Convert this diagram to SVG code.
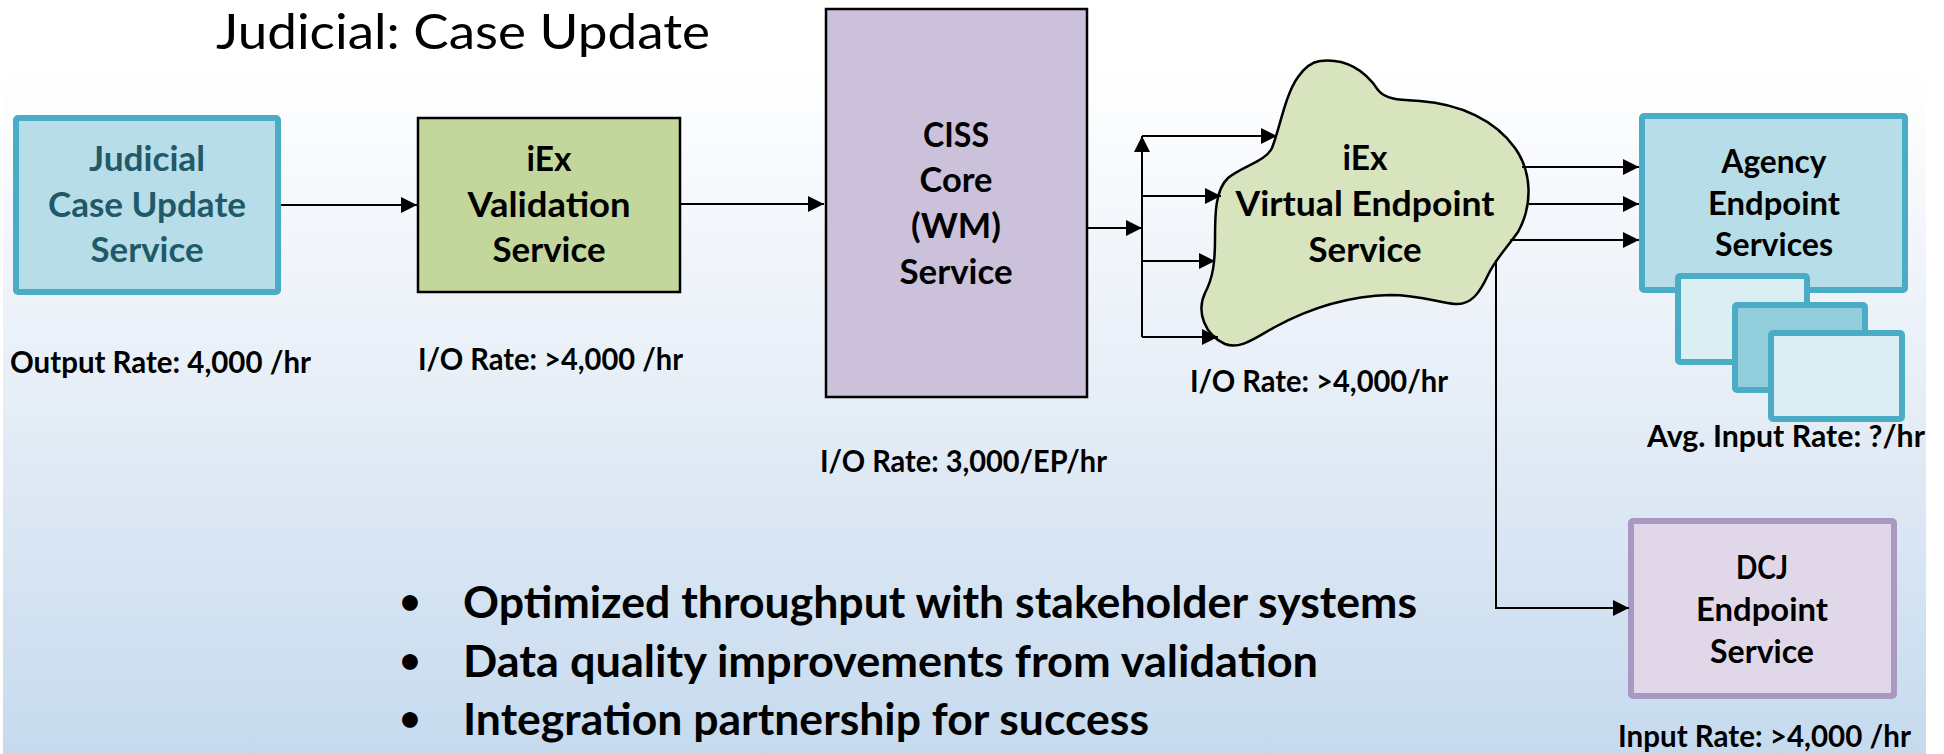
<svg xmlns="http://www.w3.org/2000/svg" width="1944" height="754" viewBox="0 0 1944 754">
<defs>
<linearGradient id="bg" x1="0" y1="0" x2="0" y2="1">
<stop offset="0" stop-color="#FFFFFF"/>
<stop offset="0.5" stop-color="#E5EDF6"/>
<stop offset="1" stop-color="#C6DAEE"/>
</linearGradient>
<marker id="ah" markerUnits="userSpaceOnUse" markerWidth="17" markerHeight="16" refX="16" refY="8" orient="auto">
<path d="M0,0 L16,8 L0,16 z" fill="#000"/>
</marker>
<style>
.t{font-family:Lato,'Liberation Sans',sans-serif;font-weight:700;fill:#000}
.c{text-anchor:middle}
.b{font-size:35px}
.s{font-size:32px}
.l{font-size:29.5px}
.u{font-size:44px}
.bt{font-size:36px}
.title{font-family:Lato,'Liberation Sans',sans-serif;font-weight:400;font-size:48px;fill:#000}
.teal{fill:#B7DEE8;stroke:#4BACC6;stroke-width:6}
.conn path{fill:none;stroke:#000;stroke-width:2}
</style>
</defs>
<rect x="0" y="0" width="1944" height="754" fill="#FFFFFF"/>
<rect x="3" y="67" width="1923" height="687" fill="url(#bg)"/>
<text class="title" x="216" y="49" textLength="494" lengthAdjust="spacingAndGlyphs">Judicial: Case Update</text>

<g id="judicial">
<rect class="teal" x="16" y="118" width="262" height="174" rx="2"/>
<text class="t c b" style="fill:#215968" x="147" y="171" textLength="116" lengthAdjust="spacingAndGlyphs">Judicial</text>
<text class="t c b" style="fill:#215968" x="147" y="217" textLength="198" lengthAdjust="spacingAndGlyphs">Case Update</text>
<text class="t c b" style="fill:#215968" x="147" y="262" textLength="113" lengthAdjust="spacingAndGlyphs">Service</text>
</g>

<g id="validation">
<rect x="418" y="118" width="262" height="174" fill="#C3D69B" stroke="#000" stroke-width="2.5"/>
<text class="t c b" x="549" y="171" textLength="45" lengthAdjust="spacingAndGlyphs">iEx</text>
<text class="t c b" x="549" y="217" textLength="163" lengthAdjust="spacingAndGlyphs">Validation</text>
<text class="t c b" x="549" y="262" textLength="113" lengthAdjust="spacingAndGlyphs">Service</text>
</g>

<g id="ciss">
<rect x="826" y="9" width="261" height="388" fill="#CCC1DA" stroke="#000" stroke-width="2.5"/>
<text class="t c b" x="956" y="147" textLength="66" lengthAdjust="spacingAndGlyphs">CISS</text>
<text class="t c b" x="956" y="192" textLength="73" lengthAdjust="spacingAndGlyphs">Core</text>
<text class="t c b" x="956" y="238" textLength="90" lengthAdjust="spacingAndGlyphs">(WM)</text>
<text class="t c b" x="956" y="284" textLength="113" lengthAdjust="spacingAndGlyphs">Service</text>
</g>

<g id="virtual-endpoint">
<path d="M1320,61 C1345,58 1365,70 1378,90 C1386,100 1400,100 1420,101 C1460,104 1495,120 1515,148 C1532,172 1533,205 1518,232 C1505,250 1495,260 1488,275 C1480,292 1472,305 1455,304 C1440,303 1420,295 1390,295 C1350,296 1310,308 1275,327 C1255,338 1240,350 1225,344 C1205,335 1196,312 1205,293 C1213,278 1215,262 1215,240 C1215,215 1215,190 1228,178 C1242,166 1265,162 1272,148 C1280,128 1285,95 1298,77 C1305,67 1312,62 1320,61 Z" fill="#D7E4BD" stroke="#000" stroke-width="2.5"/>
<text class="t c b" x="1365" y="170" textLength="45" lengthAdjust="spacingAndGlyphs">iEx</text>
<text class="t c b" x="1365" y="216" textLength="259" lengthAdjust="spacingAndGlyphs">Virtual Endpoint</text>
<text class="t c b" x="1365" y="262" textLength="113" lengthAdjust="spacingAndGlyphs">Service</text>
</g>

<g id="agency">
<rect class="teal" x="1642" y="116" width="263" height="174" rx="2"/>
<rect x="1678" y="276" width="129" height="86" fill="#DAEEF3" stroke="#4BACC6" stroke-width="6" rx="2"/>
<rect x="1735" y="305" width="130" height="85" fill="#92CDDC" stroke="#4BACC6" stroke-width="6" rx="2"/>
<rect x="1771" y="333" width="131" height="86" fill="#DAEEF3" stroke="#4BACC6" stroke-width="6" rx="2"/>
<text class="t c s" x="1774" y="173" textLength="105" lengthAdjust="spacingAndGlyphs">Agency</text>
<text class="t c s" x="1774" y="215" textLength="132" lengthAdjust="spacingAndGlyphs">Endpoint</text>
<text class="t c s" x="1774" y="256" textLength="118" lengthAdjust="spacingAndGlyphs">Services</text>
</g>

<g id="dcj">
<rect x="1631" y="521" width="263" height="175" fill="#E0D8E9" stroke="#A898C2" stroke-width="6" rx="2"/>
<text class="t c s" x="1762" y="579" textLength="52" lengthAdjust="spacingAndGlyphs">DCJ</text>
<text class="t c s" x="1762" y="621" textLength="132" lengthAdjust="spacingAndGlyphs">Endpoint</text>
<text class="t c s" x="1762" y="663" textLength="104" lengthAdjust="spacingAndGlyphs">Service</text>
</g>

<g id="labels">
<text class="t l" x="10" y="373" textLength="301" lengthAdjust="spacingAndGlyphs">Output Rate: 4,000 /hr</text>
<text class="t l" x="418" y="370" textLength="265" lengthAdjust="spacingAndGlyphs">I/O Rate: &gt;4,000 /hr</text>
<text class="t l" x="820" y="472" textLength="287" lengthAdjust="spacingAndGlyphs">I/O Rate: 3,000/EP/hr</text>
<text class="t l" x="1190" y="392" textLength="258" lengthAdjust="spacingAndGlyphs">I/O Rate: &gt;4,000/hr</text>
<text class="t l" x="1647" y="447" textLength="278" lengthAdjust="spacingAndGlyphs">Avg. Input Rate: ?/hr</text>
<text class="t l" x="1618" y="747" textLength="293" lengthAdjust="spacingAndGlyphs">Input Rate: &gt;4,000 /hr</text>
</g>

<g id="bullets">
<text class="t c bt" x="410" y="614">•</text>
<text class="t u" x="463" y="618" textLength="954" lengthAdjust="spacingAndGlyphs">Optimized throughput with stakeholder systems</text>
<text class="t c bt" x="410" y="673">•</text>
<text class="t u" x="463" y="677" textLength="855" lengthAdjust="spacingAndGlyphs">Data quality improvements from validation</text>
<text class="t c bt" x="410" y="731">•</text>
<text class="t u" x="463" y="735" textLength="686" lengthAdjust="spacingAndGlyphs">Integration partnership for success</text>
</g>

<g id="connectors" class="conn">
<path d="M281,205 H417" marker-end="url(#ah)"/>
<path d="M681,204 H824" marker-end="url(#ah)"/>
<path d="M1088,228 H1142" marker-end="url(#ah)"/>
<path d="M1142,337 V136" marker-end="url(#ah)"/>
<path d="M1142,136 H1277" marker-end="url(#ah)"/>
<path d="M1142,196 H1221" marker-end="url(#ah)"/>
<path d="M1142,261 H1215" marker-end="url(#ah)"/>
<path d="M1142,337 H1218" marker-end="url(#ah)"/>
<path d="M1522,167 H1639" marker-end="url(#ah)"/>
<path d="M1529,204 H1639" marker-end="url(#ah)"/>
<path d="M1510,240 H1639" marker-end="url(#ah)"/>
<path d="M1496,260 V608 H1629" marker-end="url(#ah)"/>
</g>
</svg>
